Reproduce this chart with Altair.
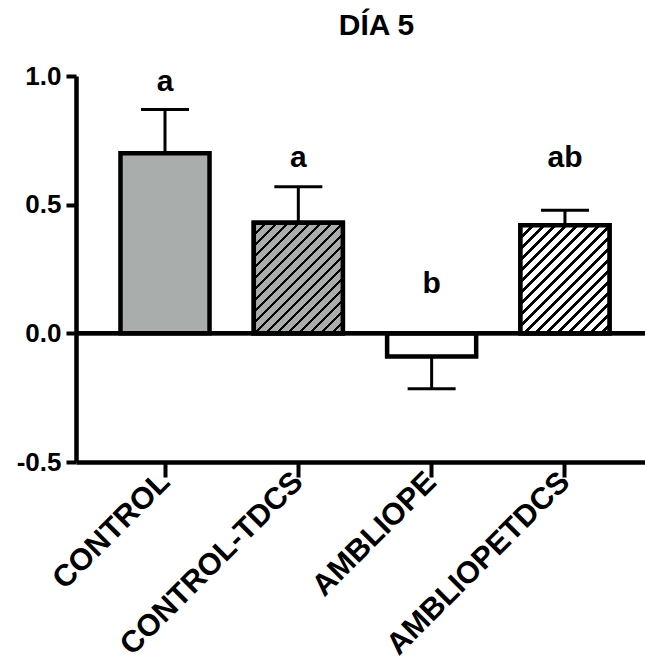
import altair as alt
import pandas as pd

# ---- data ----
groups = ["CONTROL", "CONTROL-TDCS", "AMBLIOPE", "AMBLIOPETDCS"]
means = [0.70, 0.43, -0.09, 0.42]
errors = [0.17, 0.14, 0.125, 0.058]
letters = ["a", "a", "b", "ab"]
letter_y = [0.94, 0.645, 0.158, 0.645]
fills = ["#a9adab", "#a9adab", "#ffffff", "#ffffff"]
hatched = [False, True, False, True]

# ---- layout ----
W, H = 569, 386
Y_DOMAIN = [-0.5, 1.0]
PX_PER_UNIT = H / (Y_DOMAIN[1] - Y_DOMAIN[0])
P_INNER, P_OUTER, ALIGN = 0.332, 0.30, 0.556
STEP = W / (len(groups) - P_INNER + 2 * P_OUTER)
BANDW = STEP * (1 - P_INNER)
FONT = "Liberation Sans"

df = pd.DataFrame({
    "group": groups,
    "mean": means,
    "err_end": [m + (e if m >= 0 else -e) for m, e in zip(means, errors)],
    "letter": letters,
    "ly": letter_y,
    "fill": fills,
})


def hatch(w, h, bg, period=11.0, frac=0.32):
    """Diagonal '/' stripes as a hard-stop linear gradient in bbox units."""
    L = w + h
    k = L / (w * w + h * h)
    n = int(L / period) + 1
    stops = []
    for i in range(n):
        o0 = min(i * period / L, 1)
        o1 = min((i * period + frac * period) / L, 1)
        o2 = min((i + 1) * period / L, 1)
        stops += [
            {"offset": o0, "color": "black"},
            {"offset": o1, "color": "black"},
            {"offset": o1, "color": bg},
            {"offset": o2, "color": bg},
        ]
    return {"gradient": "linear", "x1": 0, "y1": 0, "x2": w * k, "y2": h * k, "stops": stops}


x_enc = alt.X(
    "group:N",
    sort=groups,
    scale=alt.Scale(domain=groups, paddingInner=P_INNER, paddingOuter=P_OUTER, align=ALIGN),
    axis=alt.Axis(
        title=None,
        labelAngle=-45,
        labelAlign="right",
        labelBaseline="middle",
        labelFontSize=30.5,
        labelFont=FONT,
        labelFontWeight="bold",
        labelColor="black",
        labelPadding=0,
        labelLimit=0,
        tickSize=15,
        tickWidth=4,
        tickColor="black",
        domainWidth=4.5,
        domainColor="black",
        grid=False,
    ),
)
y_axis = alt.Axis(
    title=None,
    values=[-0.5, 0.0, 0.5, 1.0],
    format=".1f",
    labelExpr="replace(datum.label, '\u2212', '-')",
    labelFontSize=26,
    labelFont=FONT,
    labelFontWeight="bold",
    labelColor="black",
    labelPadding=5,
    tickSize=10,
    tickWidth=4,
    tickColor="black",
    domainWidth=4.5,
    domainColor="black",
    grid=False,
)
y_scale = alt.Scale(domain=Y_DOMAIN, nice=False, zero=False)

base = alt.Chart(df)

err_rule = base.mark_rule(color="black", strokeWidth=3).encode(
    x=x_enc,
    y=alt.Y("mean:Q", scale=y_scale, axis=y_axis),
    y2="err_end:Q",
)
err_cap = base.mark_tick(color="black", thickness=3, size=48, opacity=1).encode(
    x=x_enc,
    y=alt.Y("err_end:Q", scale=y_scale, axis=y_axis),
)
bars = base.mark_bar(stroke="black", strokeWidth=4.5).encode(
    x=x_enc,
    y=alt.Y("mean:Q", scale=y_scale, axis=y_axis),
    fill=alt.Fill("fill:N", scale=None),
)

layers = [err_rule, err_cap, bars]
for g, m, f, hch in zip(groups, means, fills, hatched):
    if not hch:
        continue
    grad = hatch(BANDW, abs(m) * PX_PER_UNIT, f)
    layers.append(
        base.transform_filter(alt.datum.group == g)
        .mark_bar(stroke="black", strokeWidth=4.5, fill=grad)
        .encode(x=x_enc, y=alt.Y("mean:Q", scale=y_scale, axis=y_axis))
    )

zero_line = alt.Chart(df).mark_rule(color="black", strokeWidth=4).encode(
    y=alt.YDatum(0, scale=y_scale, axis=y_axis)
)
labels = base.mark_text(
    font=FONT, fontSize=30, fontWeight="bold", color="black", baseline="alphabetic"
).encode(
    x=x_enc,
    y=alt.Y("ly:Q", scale=y_scale, axis=y_axis),
    text="letter:N",
)
layers += [zero_line, labels]

chart = (
    alt.layer(*layers)
    .properties(
        width=W,
        height=H,
        background="white",
        autosize=alt.AutoSizeParams(type="none"),
        padding={"left": 76, "top": 76, "right": 0, "bottom": 202},
        title=alt.TitleParams(
            "DÍA 5",
            font=FONT,
            fontSize=30,
            fontWeight="bold",
            color="black",
            anchor="middle",
            dx=16,
            offset=22,
        ),
    )
    .configure_view(stroke="transparent", strokeWidth=0)
    .configure_axis(grid=False)
)

chart.save("out.html", embed_options={"renderer": "svg", "actions": False})
